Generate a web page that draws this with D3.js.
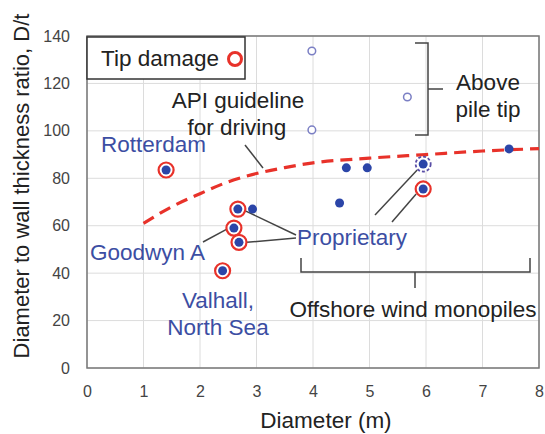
<!DOCTYPE html>
<html><head><meta charset="utf-8">
<script src="https://cdn.jsdelivr.net/npm/d3@7"></script>
<style>body{margin:0;background:#fff}svg{display:block}text{font-family:"Liberation Sans",Arial,sans-serif}</style>
</head><body><svg id="c" width="545" height="434"></svg>
<script>
// Data
const xTicks = [0,1,2,3,4,5,6,7,8];
const yTicks = [0,20,40,60,80,100,120,140];
// Piles with tip damage (filled dot + red ring)
const damagedD  = [1.4, 2.4, 2.6, 2.67, 2.69, 5.95];
const damagedDt = [83.5, 41, 59, 67, 53, 75.5];
// Piles without tip damage (filled dot)
const intactD  = [2.93, 4.47, 4.59, 4.96, 5.95, 7.47];
const intactDt = [67, 69.6, 84.4, 84.4, 86, 92.4];
// Damage above pile tip (open circles)
const aboveD  = [3.98, 5.67, 3.98];
const aboveDt = [133.7, 114.3, 100.4];
// Highlighted (dashed ring) point
const hlD = [5.95], hlDt = [86];
// API guideline for driving (dashed red curve)
const apiD  = [1, 1.5, 2, 2.5, 3, 3.5, 4, 5, 6, 7, 8];
const apiDt = [61, 68, 73.5, 78.5, 82, 84.5, 86.5, 88.5, 90, 91.5, 92.5];

const svg = d3.select("#c");
const x = d3.scaleLinear().domain([0,8]).range([87,539]);
const y = d3.scaleLinear().domain([0,140]).range([368,36]);
const BLUE = "#2b45a8", RED = "#e8322a", TXTB = "#3c4ea3", DARK = "#222";
const FS = 22.5;

// grid
svg.append("g").selectAll("line").data(xTicks).join("line")
  .attr("x1",d=>x(d)).attr("x2",d=>x(d)).attr("y1",y(0)).attr("y2",y(140))
  .attr("stroke","#dcdcdc").attr("stroke-width",1);
svg.append("g").selectAll("line").data(yTicks).join("line")
  .attr("y1",d=>y(d)).attr("y2",d=>y(d)).attr("x1",x(0)).attr("x2",x(8))
  .attr("stroke","#dcdcdc").attr("stroke-width",1);

// axes labels
const xa = svg.append("g").attr("transform",`translate(0,${y(0)})`)
  .call(d3.axisBottom(x).tickValues(xTicks).tickSize(0).tickPadding(18).tickFormat(d3.format("d")));
const ya = svg.append("g").attr("transform",`translate(${x(0)},0)`)
  .call(d3.axisLeft(y).tickValues(yTicks).tickSize(0).tickPadding(17).tickFormat(d3.format("d")));
[xa,ya].forEach(a=>{a.select(".domain").remove();
  a.selectAll("text").attr("font-size",16).attr("fill","#444").attr("font-family","Liberation Sans, Arial, sans-serif");});

// frame
svg.append("rect").attr("x",x(0)).attr("y",y(140)).attr("width",x(8)-x(0)).attr("height",y(0)-y(140))
  .attr("fill","none").attr("stroke","#777").attr("stroke-width",1.5);

// titles
svg.append("text").attr("x",326).attr("y",428).attr("text-anchor","middle")
  .attr("font-size",FS).attr("fill",DARK).text("Diameter (m)");
svg.append("text").attr("transform","translate(29,186) rotate(-90)").attr("text-anchor","middle")
  .attr("font-size",22).attr("fill",DARK).text("Diameter to wall thickness ratio, D/t");

// API curve
const line = d3.line().x((d,i)=>x(apiD[i])).y((d,i)=>y(apiDt[i])).curve(d3.curveMonotoneX);
svg.append("path").attr("d",line(apiD)).attr("fill","none").attr("stroke",RED)
  .attr("stroke-width",3.2).attr("stroke-dasharray","12,7");

// annotation lines
const ann = svg.append("g").attr("stroke","#444").attr("stroke-width",1.5).attr("fill","none");
ann.append("line").attr("x1",245).attr("y1",145).attr("x2",263).attr("y2",168);
ann.append("line").attr("x1",203).attr("y1",242).attr("x2",x(2.6)-7).attr("y2",y(59)+1);
ann.append("line").attr("x1",296).attr("y1",235).attr("x2",x(2.67)+8).attr("y2",y(67)+2);
ann.append("line").attr("x1",296).attr("y1",238).attr("x2",x(2.69)+8).attr("y2",y(53));
ann.append("line").attr("x1",375).attr("y1",215).attr("x2",x(5.95)-6).attr("y2",y(86)+6);
ann.append("line").attr("x1",392).attr("y1",222).attr("x2",x(5.95)-7).attr("y2",y(75.5)+5);
// brackets
ann.append("path").attr("d","M415,43 H428 V135 H415 M428,89 H443");
ann.append("path").attr("d","M301,258 V272 H530 V258 M415,272 V288");

// points
svg.append("g").selectAll("circle").data(hlD).join("circle").attr("cx",d=>x(d)).attr("cy",(d,i)=>y(hlDt[i]))
  .attr("r",7.5).attr("fill","#fff").attr("stroke","#5a4ea6").attr("stroke-width",1.8).attr("stroke-dasharray","3,2");
svg.append("g").selectAll("circle").data(damagedD).join("circle")
  .attr("cx",d=>x(d)).attr("cy",(d,i)=>y(damagedDt[i])).attr("r",7.5)
  .attr("fill","#fff").attr("stroke",RED).attr("stroke-width",2.2);
svg.append("g").selectAll("circle").data(damagedD).join("circle")
  .attr("cx",d=>x(d)).attr("cy",(d,i)=>y(damagedDt[i])).attr("r",4.5).attr("fill",BLUE);
svg.append("g").selectAll("circle").data(intactD).join("circle")
  .attr("cx",d=>x(d)).attr("cy",(d,i)=>y(intactDt[i])).attr("r",4.5).attr("fill",BLUE);
svg.append("g").selectAll("circle").data(aboveD).join("circle")
  .attr("cx",d=>x(d)).attr("cy",(d,i)=>y(aboveDt[i])).attr("r",3.8)
  .attr("fill","#fff").attr("stroke","#7b7fc4").attr("stroke-width",1.5);

// legend box
svg.append("rect").attr("x",87).attr("y",37).attr("width",158).attr("height",42)
  .attr("fill","#fff").attr("stroke","#333").attr("stroke-width",1.5);
svg.append("text").attr("x",101).attr("y",66).attr("font-size",FS).attr("fill",DARK).text("Tip damage");
svg.append("circle").attr("cx",235).attr("cy",59).attr("r",6.5).attr("fill","#fff")
  .attr("stroke",RED).attr("stroke-width",3);

// texts
const T = (t,xx,yy,col,anchor)=>svg.append("text").attr("x",xx).attr("y",yy).attr("font-size",FS)
  .attr("fill",col).attr("text-anchor",anchor||"start").text(t);
T("API guideline",238,108,DARK,"middle");
T("for driving",237,135,DARK,"middle");
T("Rotterdam",101,152,TXTB);
T("Above",488,90,DARK,"middle");
T("pile tip",488,117,DARK,"middle");
T("Goodwyn A",90,260,TXTB);
T("Proprietary",297,245,TXTB);
T("Valhall,",218,308,TXTB,"middle");
T("North Sea",218,335,TXTB,"middle");
T("Offshore wind monopiles",413,317,DARK,"middle");
</script></body></html>
